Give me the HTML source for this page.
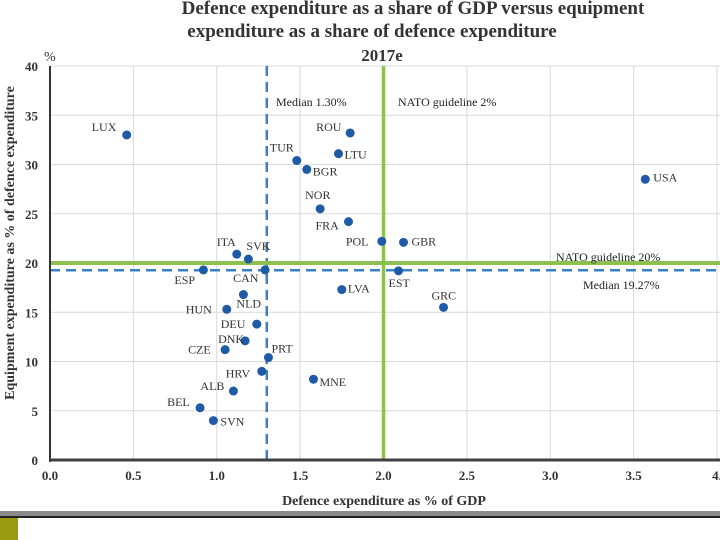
<!DOCTYPE html>
<html><head><meta charset="utf-8"><style>
body{margin:0;background:#fff;}
svg{display:block;font-family:"Liberation Serif",serif;}
</style></head><body>
<svg id="c" width="720" height="540" viewBox="0 0 720 540">
<text x="413" y="14" text-anchor="middle" font-size="19" font-weight="bold" fill="#333">Defence expenditure as a share of GDP versus equipment</text>
<text x="372" y="37" text-anchor="middle" font-size="19" font-weight="bold" fill="#333">expenditure as a share of defence expenditure</text>
<text x="382" y="61" text-anchor="middle" font-size="17" font-weight="bold" fill="#333">2017e</text>
<text x="44" y="61" font-size="14" fill="#333">%</text>
<g id="grid"></g><g id="ref"></g><g id="pts"></g><g id="axes"></g>
<text x="384" y="505" text-anchor="middle" font-size="14" font-weight="bold" fill="#333">Defence expenditure as % of GDP</text>
<text transform="translate(14,243) rotate(-90)" text-anchor="middle" font-size="14" font-weight="bold" fill="#333">Equipment expenditure as % of defence expenditure</text>
<rect x="0" y="511" width="720" height="5" fill="#8a8a8a"/>
<rect x="0" y="516" width="720" height="2" fill="#222"/>
<rect x="0" y="518" width="18" height="22" fill="#9a9a10"/>
</svg>
<script>
const countries=["LUX","ROU","TUR","LTU","BGR","USA","NOR","FRA","POL","GBR","ITA","SVK","ESP","CAN","EST","LVA","GRC","HUN","NLD","DEU","DNK","CZE","PRT","HRV","MNE","ALB","BEL","SVN"];
const gdpShare=[0.46,1.80,1.48,1.73,1.54,3.57,1.62,1.79,1.99,2.12,1.12,1.19,0.92,1.29,2.09,1.75,2.36,1.06,1.16,1.24,1.17,1.05,1.31,1.27,1.58,1.10,0.90,0.98];
const equipShare=[33.0,33.2,30.4,31.1,29.5,28.5,25.5,24.2,22.2,22.1,20.9,20.4,19.3,19.3,19.2,17.3,15.5,15.3,16.8,13.8,12.1,11.2,10.4,9.0,8.2,7.0,5.3,4.0];
const labelDx=[-35,-34,-27,6,6,8,-15,-33,-36,8,-20,-2,-29,-32,-10,6,-12,-41,-7,-36,-27,-37,3,-36,6,-33,-33,7];
const labelDy=[-4,-2,-9,5,6,2,-10,8,4,3,-8,-9,14,12,16,3,-8,4,13,4,2,4,-5,6,7,-1,-2,5];
const xTicks=[0,0.5,1,1.5,2,2.5,3,3.5,4];
const xTickLabels=["0.0","0.5","1.0","1.5","2.0","2.5","3.0","3.5","4."];
const yTicks=[0,5,10,15,20,25,30,35,40];
const medianGdp=1.30, medianEquip=19.27, natoGdp=2, natoEquip=20;
const X=v=>50+v*166.75, Y=v=>460-v*9.85;
const NS="http://www.w3.org/2000/svg";
function mk(p,t,a){const e=document.createElementNS(NS,t);for(const k in a)e.setAttribute(k,a[k]);p.appendChild(e);return e;}
const grid=document.getElementById('grid'),ref=document.getElementById('ref'),pts=document.getElementById('pts'),axes=document.getElementById('axes');
xTicks.forEach((t,i)=>{
 const l=mk(grid,'line',{x1:X(t),x2:X(t),y1:Y(40),y2:Y(0),stroke:'#d9d9d9','stroke-width':1});
 
 
 const tx=mk(axes,'text',{x:X(t),y:480,'text-anchor':'middle','font-size':13,'font-weight':'bold',fill:'#333'});
 tx.textContent=xTickLabels[i];
 
 
});
yTicks.forEach(t=>{
 if(t>0){const l=mk(grid,'line',{x1:X(0),x2:720,y1:Y(t),y2:Y(t),stroke:'#d9d9d9','stroke-width':1});
 
 }
 const tx=mk(axes,'text',{x:38,y:Y(t)+5,'text-anchor':'end','font-size':13,'font-weight':'bold',fill:'#333'});
 tx.textContent=t;
 
 
});
let e;
e=mk(ref,'line',{x1:X(medianGdp),x2:X(medianGdp),y1:Y(40),y2:Y(0),stroke:'#3a7fc1','stroke-width':2.5,'stroke-dasharray':'10,6'});


e=mk(ref,'line',{x1:X(0),x2:720,y1:Y(medianEquip),y2:Y(medianEquip),stroke:'#3a7fc1','stroke-width':2.5,'stroke-dasharray':'10,6'});


e=mk(ref,'line',{x1:X(natoGdp),x2:X(natoGdp),y1:Y(40),y2:Y(0),stroke:'#8cc152','stroke-width':3.5});


e=mk(ref,'line',{x1:X(0),x2:720,y1:Y(natoEquip),y2:Y(natoEquip),stroke:'#8cc152','stroke-width':4});


const notes=[["Median 1.30%",276,106,'median-gdp-label'],["NATO guideline 2%",398,106,'nato-gdp-label'],["NATO guideline 20%",556,261,'nato-equipment-label'],["Median 19.27%",583,289,'median-equipment-label']];
notes.forEach(n=>{const t=mk(ref,'text',{x:n[1],y:n[2],'font-size':12,fill:'#222'});t.textContent=n[0];
 
 });
countries.forEach((c,i)=>{
 const cx=X(gdpShare[i]),cy=Y(equipShare[i]);
 const d=mk(pts,'circle',{cx:cx,cy:cy,r:4.5,fill:'#1f5aa6'});
 
 
 const t=mk(pts,'text',{x:cx+labelDx[i],y:cy+labelDy[i],'font-size':12,fill:'#333'});
 t.textContent=c;
 
 
});
e=mk(axes,'line',{x1:X(0),x2:X(0),y1:Y(40),y2:Y(0)+2,stroke:'#333','stroke-width':2});


e=mk(axes,'line',{x1:X(0)-1,x2:720,y1:Y(0),y2:Y(0),stroke:'#404040','stroke-width':3});


</script>
</body></html>
